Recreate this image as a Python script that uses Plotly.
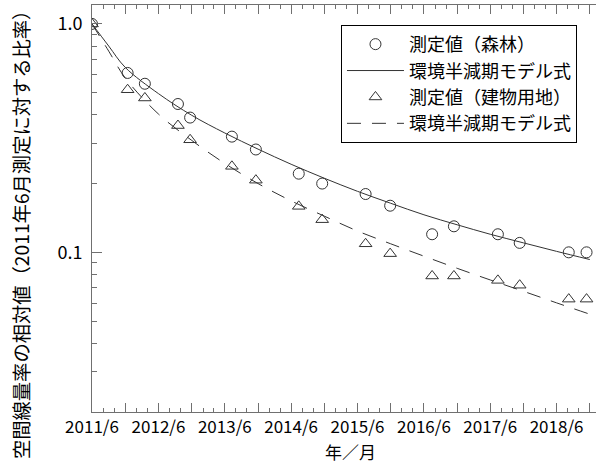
import plotly.graph_objects as go
import math

# measurement dates (shared by both series)
meas_dates = ["2011-06-01", "2011-12-14", "2012-03-18", "2012-09-16", "2012-11-22",
              "2013-07-10", "2013-11-19", "2014-07-13", "2014-11-19", "2015-07-16",
              "2015-11-28", "2016-07-16", "2016-11-13", "2017-07-13", "2017-11-10",
              "2018-08-07", "2018-11-13"]
forest_vals = [1.0, 0.61, 0.547, 0.446, 0.389, 0.321, 0.282, 0.221, 0.200, 0.180,
               0.160, 0.120, 0.130, 0.120, 0.110, 0.100, 0.100]
building_vals = [1.0, 0.515, 0.474, 0.359, 0.311, 0.238, 0.207, 0.159, 0.139, 0.109,
                 0.0987, 0.0788, 0.0788, 0.0754, 0.0718, 0.0624, 0.0624]

# model curves
model_dates = ["2011-06-01", "2011-09-01", "2011-12-01", "2012-06-01", "2012-12-01",
               "2013-06-01", "2013-12-01", "2014-06-01", "2014-12-01", "2015-06-01",
               "2015-12-01", "2016-06-01", "2016-12-01", "2017-06-01", "2017-12-01",
               "2018-06-01", "2018-12-01"]
forest_model = [1.0, 0.80, 0.645, 0.495, 0.398, 0.333, 0.283, 0.243, 0.211, 0.185,
                0.164, 0.146, 0.132, 0.120, 0.110, 0.101, 0.093]
building_model = [1.0, 0.76, 0.58, 0.403, 0.309, 0.245, 0.200, 0.168, 0.144, 0.124,
                  0.109, 0.0962, 0.0851, 0.0757, 0.0675, 0.0601, 0.0536]

# axis ticks
x_tick_vals = ["2011-06-01", "2011-12-01", "2012-06-01", "2012-12-01", "2013-06-01",
               "2013-12-01", "2014-06-01", "2014-12-01", "2015-06-01", "2015-12-01",
               "2016-06-01", "2016-12-01", "2017-06-01", "2017-12-01", "2018-06-01",
               "2018-12-01"]
x_tick_text = ["2011/6", "", "2012/6", "", "2013/6", "", "2014/6", "", "2015/6", "",
               "2016/6", "", "2017/6", "", "2018/6", ""]
y_tick_vals = [0.1, 1.0]
y_tick_text = ["0.1", "1.0"]
y_minor_vals = [0.03, 0.04, 0.05, 0.06, 0.07, 0.08, 0.09,
                0.2, 0.3, 0.4, 0.5, 0.6, 0.7, 0.8, 0.9]

x_title = "年／月"
y_title = "空間線量率の相対値（2011年6月測定に対する比率）"

FONT = "Noto Sans CJK JP"
INK = "#333333"
AX = "#707070"

fig = go.Figure()
fig.add_trace(go.Scatter(x=meas_dates, y=forest_vals, mode="markers", name="測定値（森林）",
                         marker=dict(symbol="circle-open", size=11, color=INK,
                                     line=dict(width=1, color=INK))))
fig.add_trace(go.Scatter(x=model_dates, y=forest_model, mode="lines", name="環境半減期モデル式",
                         line=dict(color=INK, width=1, shape="spline")))
fig.add_trace(go.Scatter(x=meas_dates, y=building_vals, mode="markers", name="測定値（建物用地）",
                         marker=dict(symbol="triangle-up-open", size=11, color=INK,
                                     line=dict(width=1, color=INK))))
fig.add_trace(go.Scatter(x=model_dates, y=building_model, mode="lines", name="環境半減期モデル式",
                         line=dict(color=INK, width=1, dash="14px,11px", shape="spline")))

fig.update_layout(
    width=596, height=465,
    margin=dict(l=92, r=0, t=5, b=53, autoexpand=False),
    paper_bgcolor="white", plot_bgcolor="white",
    font=dict(family=FONT, size=16, color="black"),
    legend=dict(x=0.494, y=0.951, xanchor="left", yanchor="top",
                bordercolor="black", borderwidth=1, bgcolor="white",
                font=dict(family=FONT, size=18), itemwidth=57,
                tracegroupgap=0),
    xaxis=dict(type="date", range=["2011-06-01", "2019-01-04"], automargin=False,
               tickmode="array", tickvals=x_tick_vals, ticktext=x_tick_text,
               ticks="inside", ticklen=9, tickcolor=AX, tickwidth=1,
               showline=True, linecolor=AX, linewidth=1, mirror="ticks",
               showgrid=False, zeroline=False,
               tickfont=dict(family=FONT, size=17),
               minor=dict(tickmode="linear", tick0="2011-06-01", dtick="M2",
                          ticks="inside", ticklen=4, tickcolor=AX, showgrid=False)),
    yaxis=dict(type="log", range=[math.log10(0.02), math.log10(1.21)], automargin=False,
               tickmode="array", tickvals=y_tick_vals, ticktext=y_tick_text,
               ticks="inside", ticklen=10, tickcolor=AX, tickwidth=1,
               showline=True, linecolor=AX, linewidth=1, mirror=False,
               showgrid=False, zeroline=False, ticklabelstandoff=5,
               tickfont=dict(family=FONT, size=18),
               minor=dict(tickmode="array", tickvals=y_minor_vals,
                          ticks="inside", ticklen=5, tickcolor=AX, showgrid=False)),
    annotations=[
        dict(text=x_title, xref="paper", yref="paper", x=0.512, y=-0.098,
             xanchor="center", yanchor="middle", showarrow=False,
             font=dict(family=FONT, size=17)),
        dict(text=y_title, xref="paper", yref="paper", x=-0.141, y=0.447,
             xanchor="center", yanchor="middle", showarrow=False, textangle=-90,
             font=dict(family=FONT, size=19.3)),
    ],
)

fig.write_html("out.html", config={"displayModeBar": False},
               post_script="document.body.style.margin='0';")
